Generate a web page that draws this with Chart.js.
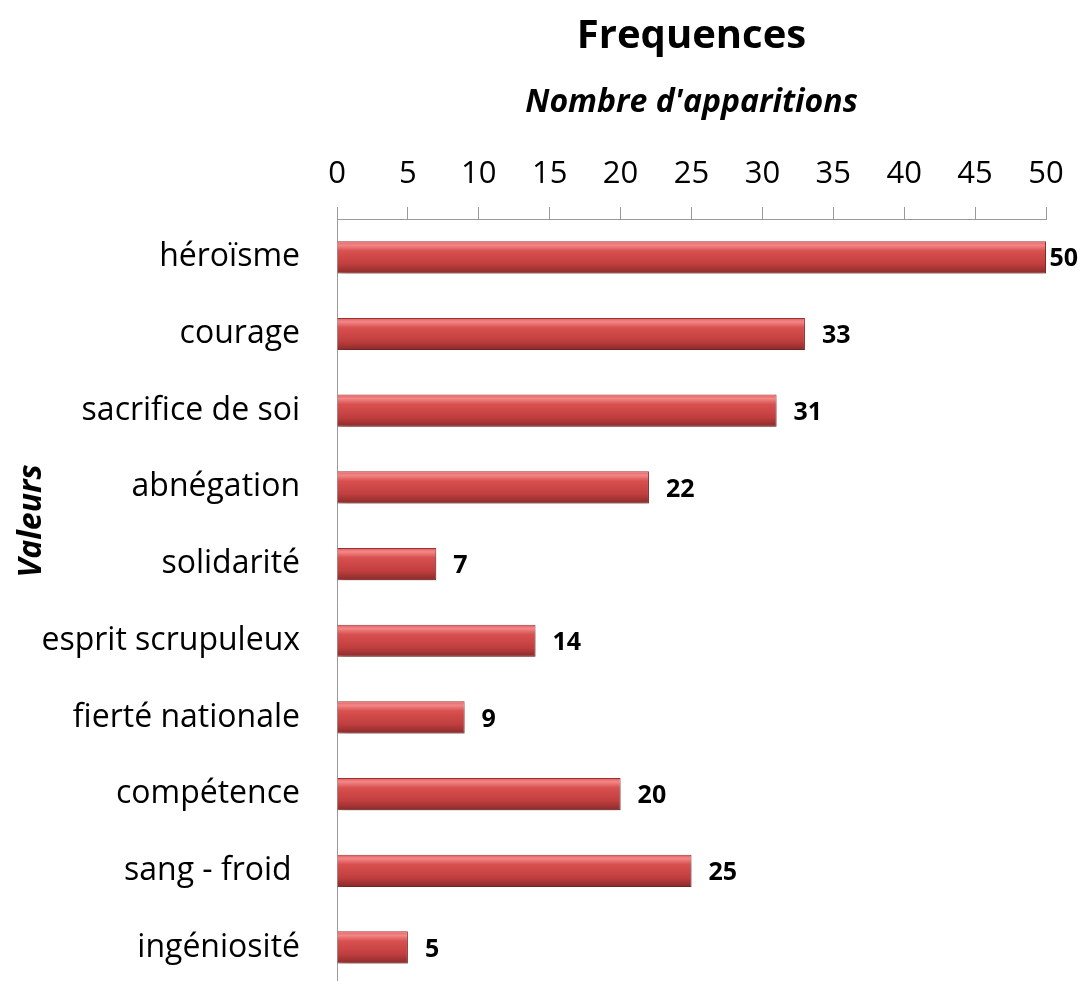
<!DOCTYPE html>
<html>
<head>
<meta charset="utf-8">
<script src="https://cdn.jsdelivr.net/npm/chart.js@4.4.1/dist/chart.umd.min.js"></script>
<style>
html, body { margin: 0; padding: 0; background: #fff; overflow: hidden; }
canvas { display: block; }
</style>
</head>
<body>
<canvas id="freq" width="1084" height="1042"></canvas>
<script>
// donnees
var valeurs = ["héroïsme", "courage", "sacrifice de soi", "abnégation", "solidarité",
  "esprit scrupuleux", "fierté nationale", "compétence", "sang - froid ", "ingéniosité"];
var apparitions = [50, 33, 31, 22, 7, 14, 9, 20, 25, 5];
var graduations = [0, 5, 10, 15, 20, 25, 30, 35, 40, 45, 50];

var police = "'Open Sans'";
var barPct = 0.42;

function barFill(c) {
  var chart = c.chart;
  var ys = chart.scales && chart.scales.y;
  if (!chart.chartArea || !ys || c.dataIndex === undefined) return '#c94444';
  var mid = ys.getPixelForValue(c.dataIndex);
  var half = ys.height / valeurs.length * barPct / 2;
  var g = chart.ctx.createLinearGradient(0, mid - half, 0, mid + half);
  g.addColorStop(0, '#e65a5a');
  g.addColorStop(0.12, '#f28888');
  g.addColorStop(0.3, '#d95050');
  g.addColorStop(0.7, '#c23f3f');
  g.addColorStop(1, '#8a2a2a');
  return g;
}

var barShadow = {
  id: 'barShadow',
  beforeDatasetsDraw: function(chart) {
    var ctx = chart.ctx;
    ctx.save();
    ctx.shadowColor = 'rgba(0,0,0,0.3)';
    ctx.shadowBlur = 7;
    ctx.shadowOffsetX = 2;
    ctx.shadowOffsetY = 6;
  },
  afterDatasetsDraw: function(chart) {
    var ctx = chart.ctx;
    ctx.restore();
    ctx.save();
    ctx.fillStyle = '#000';
    ctx.textBaseline = 'middle';
    // etiquettes de valeur
    ctx.font = 'bold 25px ' + police;
    ctx.textAlign = 'left';
    chart.getDatasetMeta(0).data.forEach(function(bar, i) {
      var txt = String(apparitions[i]);
      var x = Math.min(bar.x + 17, chart.width - ctx.measureText(txt).width - 6);
      ctx.fillText(txt, x, bar.y + 2);
    });
    // titre de l'axe vertical
    ctx.font = 'italic bold 32px ' + police;
    ctx.textAlign = 'center';
    ctx.translate(32, 521);
    ctx.rotate(-Math.PI / 2);
    ctx.fillText('Valeurs', 0, 0);
    ctx.restore();
  }
};

var ctx = document.getElementById("freq").getContext('2d');
var myChart = new Chart(ctx, {
  type: 'bar',
  data: {
    labels: valeurs,
    datasets: [{
      data: apparitions,
      backgroundColor: barFill,
      borderColor: '#9c3030',
      borderWidth: 1,
      borderSkipped: 'start',
      barPercentage: barPct,
      categoryPercentage: 1
    }]
  },
  options: {
    indexAxis: 'y',
    responsive: false,
    animation: false,
    layout: { padding: { right: 38, bottom: 0 } },
    plugins: {
      legend: { display: false },
      tooltip: { enabled: false },
      title: {
        display: true,
        text: 'Frequences',
        fullSize: false,
        color: '#000',
        font: { family: police, size: 40, weight: 'bold' },
        padding: { top: 13, bottom: 5 }
      }
    },
    scales: {
      x: {
        position: 'top',
        min: graduations[0],
        max: graduations[graduations.length - 1],
        ticks: { stepSize: graduations[1] - graduations[0], color: '#000', font: { family: police, size: 31 }, padding: 14 },
        grid: { drawOnChartArea: false, tickLength: 12, color: '#9a9a9a' },
        border: { color: '#9a9a9a' },
        title: {
          display: true,
          text: "Nombre d'apparitions",
          color: '#000',
          font: { family: police, size: 32, weight: 'bold', style: 'italic' },
          padding: { top: 18, bottom: 0 }
        },
        afterFit: function(s) { s.height = 153; }
      },
      y: {
        grid: { drawOnChartArea: false, drawTicks: false, color: '#9a9a9a' },
        border: { color: '#9a9a9a' },
        ticks: { color: '#000', font: { family: police, size: 32 }, padding: 37 },
        afterFit: function(s) { s.width = 337; }
      }
    }
  },
  plugins: [barShadow]
});
</script>
</body>
</html>
